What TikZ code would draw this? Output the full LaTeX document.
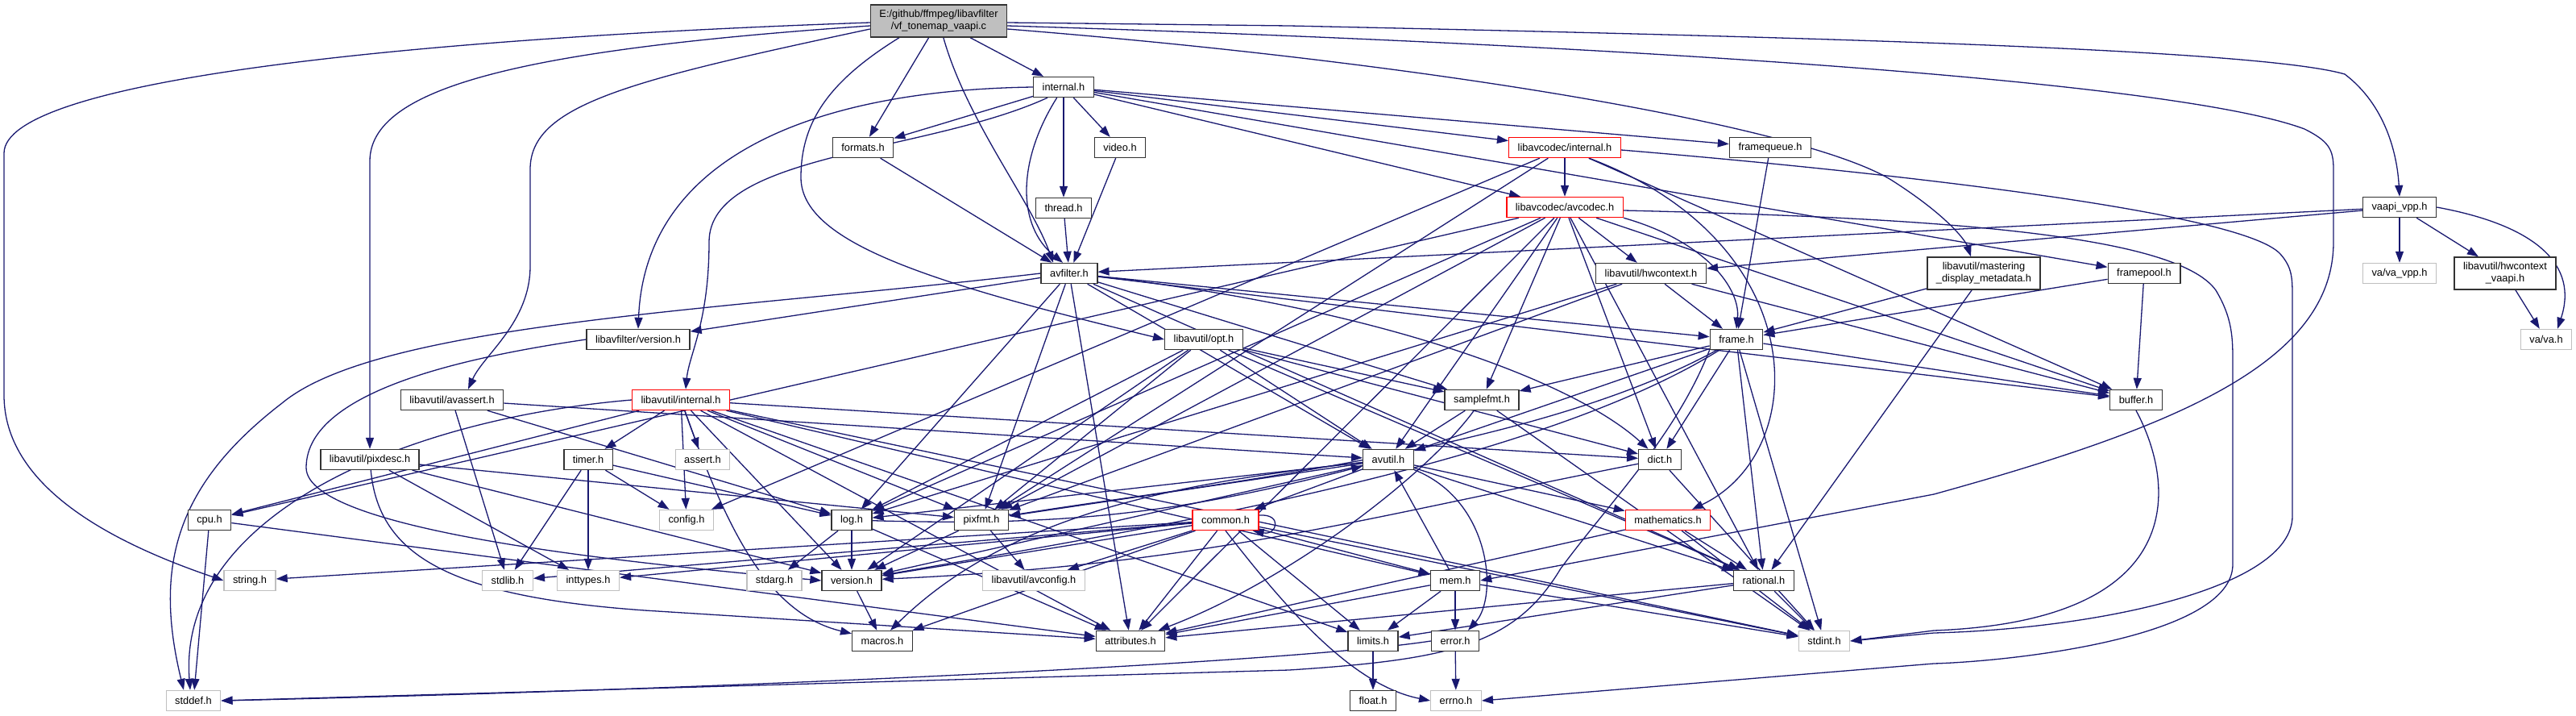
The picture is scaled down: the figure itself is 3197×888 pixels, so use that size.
\documentclass[tikz,border=0pt]{standalone}
\usepackage{fontspec}
\setmainfont{Liberation Sans}
\usetikzlibrary{arrows.meta, backgrounds}

\definecolor{depblue}{HTML}{191970}
\definecolor{sysgray}{HTML}{BFBFBF}

\tikzset{
  hdrbox/.style={draw=black!80, fill=white, line width=1.4pt, inner xsep=11pt, inner ysep=2pt,
    minimum height=25pt, align=center, font=\fontsize{12.8}{15.3}\selectfont},
  sysbox/.style={hdrbox, draw=sysgray},
  cutbox/.style={hdrbox, draw=red},
  rootbox/.style={hdrbox, fill=sysgray, minimum height=40pt},
  twoline/.style={minimum height=40pt},
  dep/.style={draw=depblue, line width=1.3pt, -{Triangle[length=14pt,width=10pt]}}
}

\begin{document}
\begin{tikzpicture}[x=1pt, y=-1pt]
  \useasboundingbox (0,0) rectangle (3197,888);

  % the file itself and libavfilter
  \node[rootbox] (root) at (1165,26) {E:/github/ffmpeg/libavfilter\\/vf\_tonemap\_vaapi.c};
  \node[hdrbox] (fltint) at (1320,108) {internal.h};
  \node[hdrbox] (formats) at (1071,183) {formats.h};
  \node[hdrbox] (video) at (1390,183) {video.h};
  \node[hdrbox] (thread) at (1320,258) {thread.h};
  \node[hdrbox] (avfilter) at (1327,339) {avfilter.h};
  \node[hdrbox] (lfver) at (792,421) {libavfilter/version.h};
  \node[hdrbox] (fqueue) at (2197,183) {framequeue.h};
  \node[hdrbox] (fpool) at (2661,339) {framepool.h};
  \node[hdrbox] (vpp) at (2978,257) {vaapi\_vpp.h};

  % libavcodec
  \node[cutbox] (lcint) at (1942,183) {libavcodec/internal.h};
  \node[cutbox] (avcodec) at (1942,257) {libavcodec/avcodec.h};

  % libavutil
  \node[hdrbox] (hwctx) at (2049,339) {libavutil/hwcontext.h};
  \node[hdrbox, twoline] (mdm) at (2462,339) {libavutil/mastering\\\_display\_metadata.h};
  \node[hdrbox, twoline] (hwvaapi) at (3109,339) {libavutil/hwcontext\\\_vaapi.h};
  \node[hdrbox] (opt) at (1494,421) {libavutil/opt.h};
  \node[hdrbox] (frame) at (2155,421) {frame.h};
  \node[cutbox] (uint) at (845,496) {libavutil/internal.h};
  \node[hdrbox] (avassert) at (561,496) {libavutil/avassert.h};
  \node[hdrbox] (samplefmt) at (1839,496) {samplefmt.h};
  \node[hdrbox] (buffer) at (2651,496) {buffer.h};
  \node[hdrbox] (pixdesc) at (459,570) {libavutil/pixdesc.h};
  \node[hdrbox] (timer) at (730,570) {timer.h};
  \node[hdrbox] (avutil) at (1723,570) {avutil.h};
  \node[hdrbox] (dict) at (2060,570) {dict.h};
  \node[hdrbox] (cpu) at (260,645) {cpu.h};
  \node[hdrbox] (log) at (1057,645) {log.h};
  \node[hdrbox] (pixfmt) at (1218,645) {pixfmt.h};
  \node[cutbox] (common) at (1521,645) {common.h};
  \node[cutbox] (mathematics) at (2070,645) {mathematics.h};
  \node[hdrbox] (version) at (1057,720) {version.h};
  \node[hdrbox] (mem) at (1806,720) {mem.h};
  \node[hdrbox] (rational) at (2189,720) {rational.h};
  \node[hdrbox] (macros) at (1095,795) {macros.h};
  \node[hdrbox] (attributes) at (1403,795) {attributes.h};
  \node[hdrbox] (limits) at (1704,795) {limits.h};
  \node[hdrbox] (error) at (1806,795) {error.h};
  \node[hdrbox] (float) at (1704,869) {float.h};

  % system headers
  \node[sysbox] (assert) at (872,570) {assert.h};
  \node[sysbox] (vavpp) at (2978,339) {va/va\_vpp.h};
  \node[sysbox] (vah) at (3160,421) {va/va.h};
  \node[sysbox] (config) at (852,645) {config.h};
  \node[sysbox] (string) at (310,720) {string.h};
  \node[sysbox] (stdlib) at (630,720) {stdlib.h};
  \node[sysbox] (inttypes) at (730,720) {inttypes.h};
  \node[sysbox] (stdarg) at (961,720) {stdarg.h};
  \node[sysbox] (avconfig) at (1283,720) {libavutil/avconfig.h};
  \node[sysbox] (stdint) at (2264,795) {stdint.h};
  \node[sysbox] (stddef) at (240,869) {stddef.h};
  \node[sysbox] (errno) at (1807,869) {errno.h};

  \begin{scope}[on background layer]
    % plain includes
    \foreach \src/\dst in {
      root/formats, root/fltint,
      fltint/formats, fltint/video, fltint/thread, fltint/lcint, fltint/fqueue, fltint/avcodec, fltint/fpool,
      formats/avfilter, video/avfilter, thread/avfilter,
      fqueue/frame, fpool/buffer, fpool/frame,
      lcint/avcodec, lcint/pixfmt, lcint/config, lcint/buffer,
      avcodec/samplefmt, avcodec/attributes, avcodec/avutil, avcodec/buffer, avcodec/cpu, avcodec/dict,
      avcodec/hwctx, avcodec/log, avcodec/pixfmt, avcodec/rational,
      vpp/vavpp, vpp/hwctx, vpp/hwvaapi, vpp/avfilter, hwvaapi/vah,
      hwctx/buffer, hwctx/frame, hwctx/log, hwctx/pixfmt,
      mdm/frame, mdm/rational,
      avfilter/attributes, avfilter/avutil, avfilter/buffer, avfilter/frame, avfilter/log,
      avfilter/samplefmt, avfilter/pixfmt, avfilter/rational, avfilter/lfver,
      opt/rational, opt/avutil, opt/dict, opt/log, opt/pixfmt, opt/samplefmt, opt/version,
      avassert/stdlib, avassert/avutil, avassert/log,
      pixdesc/inttypes, pixdesc/pixfmt, pixdesc/version,
      uint/limits, uint/stdint, uint/assert, uint/config, uint/attributes, uint/timer, uint/cpu,
      uint/dict, uint/mem, uint/pixfmt, uint/version,
      timer/config, timer/stdlib, timer/inttypes, timer/log,
      cpu/stddef, cpu/attributes,
      avutil/common, avutil/rational, avutil/version, avutil/mathematics, avutil/log, avutil/pixfmt,
      log/stdarg, log/attributes, log/version,
      pixfmt/avconfig, pixfmt/version,
      common/inttypes, common/limits, common/stdint, common/stdlib, common/string, common/attributes,
      common/macros, common/version, common/avconfig, common/mem,
      mem/limits, mem/stdint, mem/attributes, mem/error, mem/avutil,
      error/errno, limits/float,
      mathematics/rational, mathematics/stdint, mathematics/attributes,
      rational/stdint, rational/limits, rational/attributes,
      samplefmt/stdint, samplefmt/avutil,
      dict/stdint,
      frame/stdint, frame/avutil, frame/buffer, frame/dict, frame/rational, frame/samplefmt,
      version/macros}
      \draw[dep] (\src) -- (\dst);

    % includes that bend round other boxes
    \draw[dep] (root) .. controls (1200,150) and (1280,250) .. ([xshift=-20pt]avfilter.north);
    \draw[dep] (fltint) .. controls (1262,200) and (1262,280) .. ([xshift=-8pt]avfilter.north);
    \draw[dep] (vpp.east) .. controls (3150,280) and (3200,330) .. ([xshift=14pt]vah.north);
    \draw[dep] (pixdesc) .. controls (470,690) and (560,740) .. (800,757) -- (attributes);
    \draw[dep] (common.south) .. controls (1600,760) and (1680,850) .. (errno.west);
    \draw[dep] (avutil) .. controls (1850,620) and (1860,740) .. ([xshift=16pt]error.north);
    \draw[dep] (avutil) .. controls (1450,600) and (1250,640) .. ([xshift=10pt]macros.north);
    \draw[dep] (samplefmt) .. controls (1770,590) and (1600,720) .. (attributes);
    \draw[dep] (frame) .. controls (1900,560) and (1500,600) .. (pixfmt);
    \draw[dep] (frame) .. controls (1900,580) and (1400,660) .. (version);
    \draw[dep] (avfilter) .. controls (1700,380) and (1950,470) .. (dict);
    \draw[dep] (uint) .. controls (900,650) and (950,760) .. (macros);
    \draw[dep] ([xshift=30pt]lcint.south) .. controls (2250,300) and (2250,560) .. ([xshift=30pt]mathematics.north);
    \draw[dep] (avcodec.south east) .. controls (2120,300) and (2160,360) .. (frame.north);
    \draw[dep] (dict) .. controls (1700,640) and (1500,700) .. (version);
    \draw[dep] (log) to[bend right=8] (avutil);
    \draw[dep] ([yshift=6pt]common.east) .. controls +(30,-2) and +(30,6) .. ([xshift=-8pt]common.south east);

    % long loops round the outside
    \draw[dep] ([yshift=-2pt]root.west) .. controls (500,48) and (5,100) .. (5,190) -- (5,490)
      .. controls (5,600) and (130,670) .. (string.west);
    \draw[dep] ([yshift=-6pt]root.west) .. controls (640,62) and (459,110) .. (459,200) -- (pixdesc.north);
    \draw[dep] ([yshift=-10pt]root.west) .. controls (780,100) and (658,130) .. (658,210) -- (658,330)
      .. controls (658,400) and (600,440) .. ([xshift=20pt]avassert.north);
    \draw[dep] ([xshift=-49pt]root.south) .. controls (1030,100) and (994,150) .. (994,220)
      .. controls (994,300) and (1150,350) .. (opt.west);
    \draw[dep] ([yshift=-2pt]root.east) -- (1600,32) .. controls (2200,45) and (2800,60) .. (2910,92)
      .. controls (2960,130) and (2975,190) .. (vpp.north);
    \draw[dep] ([yshift=-6pt]root.east) .. controls (2000,55) and (2700,100) .. (2860,160)
      .. controls (2890,175) and (2896,185) .. (2896,210) -- (2896,300)
      .. controls (2896,450) and (2700,530) .. (2400,613) -- (mem.east);
    \draw[dep] ([yshift=-10pt]root.east) .. controls (1800,80) and (2250,160) .. (2350,225)
      .. controls (2420,270) and (2440,300) .. ([xshift=-16pt]mdm.north);
    \draw[dep] (fltint.west) .. controls (1000,112) and (800,200) .. (lfver.north);
    \draw[dep] ([xshift=-20pt]fltint.south) .. controls (1150,190) and (880,190) .. (880,300)
      .. controls (880,400) and (855,440) .. ([xshift=6pt]uint.north);
    \draw[dep] ([yshift=-3pt]lcint.east) .. controls (2300,210) and (2780,260) .. (2830,315)
      .. controls (2845,332) and (2845,345) .. (2845,370) -- (2845,640)
      .. controls (2845,730) and (2600,780) .. (2400,785) -- (stdint.east);
    \draw[dep] ([yshift=-4pt]avcodec.east) .. controls (2400,270) and (2700,290) .. (2750,360)
      .. controls (2771,395) and (2771,420) .. (2771,450) -- (2771,700)
      .. controls (2771,790) and (2500,820) .. (2400,823) -- (errno.east);
    \draw[dep] (buffer.south) .. controls (2700,600) and (2720,770) .. (2400,782) -- (stdint.east);
    \draw[dep] (error.west) .. controls (1600,822) and (900,855) .. (stddef.east);
    \draw[dep] (frame.south west) .. controls (2080,540) and (2000,620) .. (1937,705)
      .. controls (1880,800) and (1800,818) .. (1600,831) -- (stddef.east);
    \draw[dep] (avfilter.west) .. controls (900,385) and (470,400) .. (350,500)
      .. controls (220,600) and (190,700) .. ([xshift=-12pt]stddef.north);
    \draw[dep] (uint.west) .. controls (500,520) and (220,640) .. ([xshift=-4pt]stddef.north);
    \draw[dep] (lfver.west) .. controls (600,440) and (380,480) .. (380,580)
      .. controls (380,660) and (800,700) .. (version.west);
  \end{scope}
\end{tikzpicture}
\end{document}
